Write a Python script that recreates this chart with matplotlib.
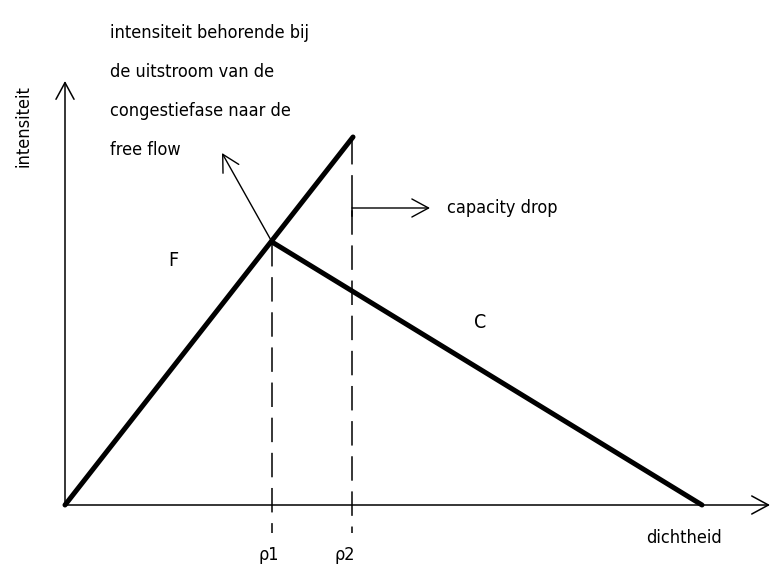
import matplotlib
matplotlib.use("Agg")
import matplotlib.pyplot as plt

# Fundamental diagram (density vs intensity), coordinates in diagram units
origin = (0, 0)
freeflow_end = (288, 368)       # end of free-flow branch F
peak = (207, 263)               # outflow point from congestion
jam = (637, 0)                  # jam density
rho1 = 207
rho2 = 287
cap_drop_y = 297
x_axis_end = 705
y_axis_end = 424

labels = {
    "F": (108, 245),
    "C": (415, 183),
}
annot_text = ["intensiteit behorende bij", "de uitstroom van de",
              "congestiefase naar de", "free flow"]

plt.rcParams['font.family'] = ['DejaVu Sans']
plt.rcParams['font.stretch'] = 'condensed'

fig = plt.figure(figsize=(7.71, 5.64), dpi=100)
ax = fig.add_axes([0, 0, 1, 1])
ax.set_xlim(-65, 706)
ax.set_ylim(-59, 505)
ax.axis('off')

arrow = "->,head_length=1.2,head_width=0.65"

# axes with open arrowheads
ax.annotate("", xy=(x_axis_end, 0), xytext=(0, 0),
            arrowprops=dict(arrowstyle=arrow, lw=1.1, color='black', shrinkA=0, shrinkB=0))
ax.annotate("", xy=(0, y_axis_end), xytext=(0, 0),
            arrowprops=dict(arrowstyle=arrow, lw=1.1, color='black', shrinkA=0, shrinkB=0))

# thick branches
ax.plot([origin[0], freeflow_end[0]], [origin[1], freeflow_end[1]], color='black', lw=3.6, solid_capstyle='round')
ax.plot([peak[0], jam[0]], [peak[1], jam[1]], color='black', lw=3.6, solid_capstyle='round')

# dashed verticals
ax.plot([rho1, rho1], [peak[1], -28], color='black', lw=1.1, linestyle=(0, (16, 7)))
ax.plot([rho2, rho2], [freeflow_end[1] - 3, -28], color='black', lw=1.1, linestyle=(0, (16, 7)))

# capacity drop arrow
ax.plot([rho2, rho2], [cap_drop_y - 8, cap_drop_y + 8], color='black', lw=1.1)
ax.annotate("", xy=(rho2 + 78, cap_drop_y), xytext=(rho2, cap_drop_y),
            arrowprops=dict(arrowstyle=arrow, lw=1.0, color='black', shrinkA=0, shrinkB=0))
ax.text(rho2 + 95, cap_drop_y - 5, "capacity drop", fontsize=13, va='baseline', ha='left')

# annotation arrow from peak
ax.annotate("", xy=(157, 352), xytext=peak,
            arrowprops=dict(arrowstyle=arrow, lw=1.0, color='black', shrinkA=0, shrinkB=0))
for i, line in enumerate(annot_text):
    ax.text(45, 505 - (38 + 39 * i), line, fontsize=13, va='baseline', ha='left')

# branch labels
for k, (x, y) in labels.items():
    ax.text(x, y, k, fontsize=14, ha='center', va='center')

# axis labels
ax.text(-42, 505 - 126, "intensiteit", fontsize=13, rotation=90, ha='center', va='center')
ax.text(619, -33, "dichtheid", fontsize=13, ha='center', va='center')
ax.text(rho1 - 3, -50, "ρ1", fontsize=13, ha='center', va='center')
ax.text(rho2 - 7, -50, "ρ2", fontsize=13, ha='center', va='center')

fig.savefig("out.png", dpi=100)
